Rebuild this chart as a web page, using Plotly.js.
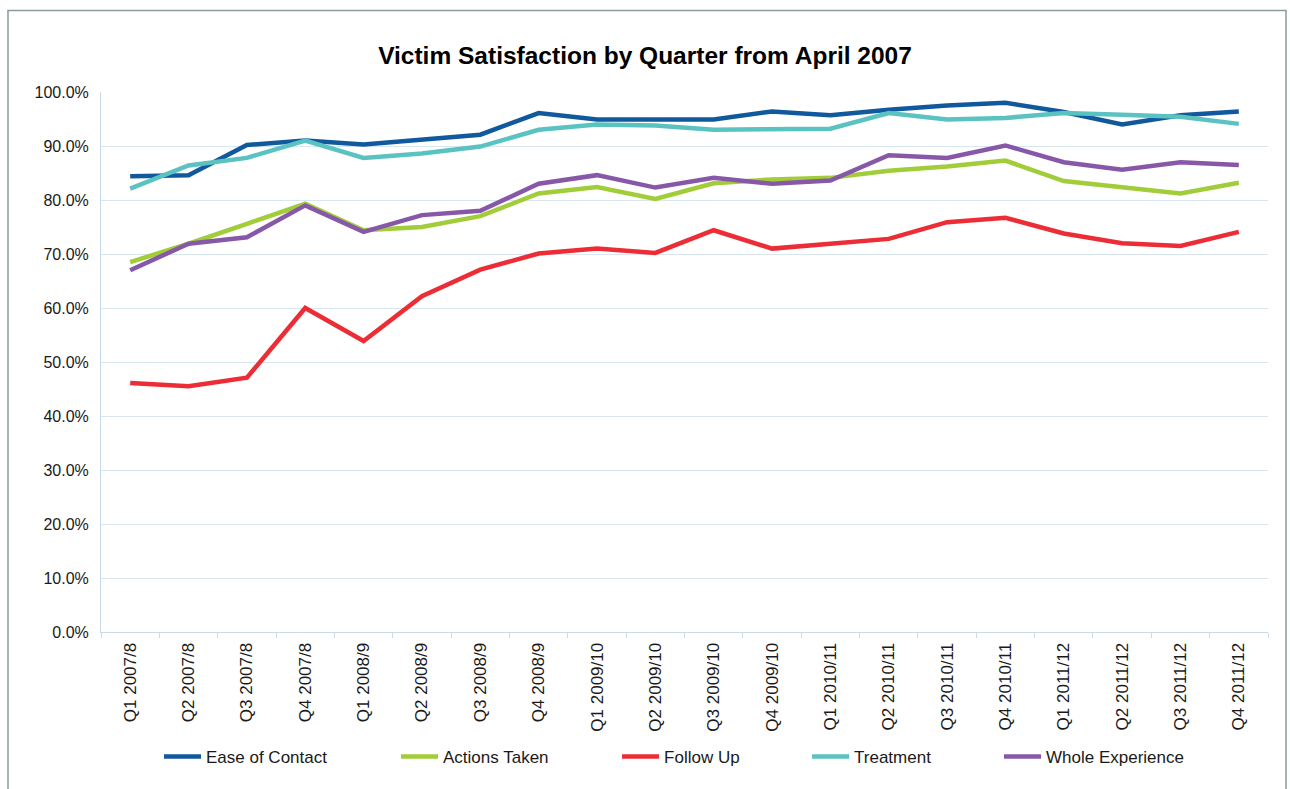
<!DOCTYPE html>
<html>
<head>
<meta charset="utf-8">
<script src="https://cdn.plot.ly/plotly-3.0.1.min.js"></script>
<style>
  html, body { margin: 0; padding: 0; background: #ffffff; }
  #chart { width: 1290px; height: 789px; }
</style>
</head>
<body>
<div id="chart"></div>
<script>
// ---- data ----
const quarters = [
  "Q1 2007/8", "Q2 2007/8", "Q3 2007/8", "Q4 2007/8",
  "Q1 2008/9", "Q2 2008/9", "Q3 2008/9", "Q4 2008/9",
  "Q1 2009/10", "Q2 2009/10", "Q3 2009/10", "Q4 2009/10",
  "Q1 2010/11", "Q2 2010/11", "Q3 2010/11", "Q4 2010/11",
  "Q1 2011/12", "Q2 2011/12", "Q3 2011/12", "Q4 2011/12"
];
const easeOfContact = [84.4, 84.6, 90.2, 91.0, 90.3, 91.2, 92.1, 96.1, 94.9, 94.9,
                       94.9, 96.4, 95.7, 96.7, 97.5, 98.0, 96.3, 94.0, 95.7, 96.4];
const actionsTaken  = [68.5, 71.9, 75.6, 79.3, 74.4, 75.0, 77.0, 81.2, 82.4, 80.2,
                       83.1, 83.8, 84.1, 85.4, 86.2, 87.3, 83.5, 82.4, 81.2, 83.2];
const followUp      = [46.1, 45.5, 47.1, 60.0, 53.9, 62.2, 67.1, 70.1, 71.0, 70.2,
                       74.4, 71.0, 71.9, 72.8, 75.9, 76.7, 73.8, 72.0, 71.5, 74.1];
const treatment     = [82.1, 86.4, 87.8, 91.0, 87.8, 88.6, 89.9, 93.0, 94.0, 93.8,
                       93.0, 93.0, 93.2, 96.1, 94.9, 95.2, 96.1, 95.8, 95.4, 94.1];
const wholeExperience = [67.0, 71.9, 73.1, 79.0, 74.1, 77.2, 78.0, 83.0, 84.6, 82.3,
                         84.1, 83.0, 83.6, 88.3, 87.8, 90.1, 87.0, 85.6, 87.0, 86.5];
const seriesNames = ["Ease of Contact", "Actions Taken", "Follow Up", "Treatment", "Whole Experience"];
const yTickVals = [0, 10, 20, 30, 40, 50, 60, 70, 80, 90, 100];

// ---- styles ----
const colors = ["#10599c", "#a2cd3a", "#ec2d36", "#5bc2c2", "#8858a8"];
const legendIds = ["legend", "legend2", "legend3", "legend4", "legend5"];
const legendX = [0.0497, 0.2528, 0.4422, 0.6050, 0.7695];
const seriesData = [easeOfContact, actionsTaken, followUp, treatment, wholeExperience];

const traces = seriesData.map((vals, i) => ({
  type: "scatter",
  mode: "lines",
  x: quarters,
  y: vals,
  name: seriesNames[i],
  legend: legendIds[i],
  line: { color: colors[i], width: 4.5, shape: "linear" }
}));

const fontFam = "'Liberation Sans', Arial, sans-serif";
const layout = {
  width: 1290,
  height: 789,
  paper_bgcolor: "#ffffff",
  plot_bgcolor: "#ffffff",
  margin: { l: 101, r: 22, t: 92, b: 157 },
  font: { family: fontFam, size: 16, color: "#1a1a1a" },
  title: {
    text: "<b>Victim Satisfaction by Quarter from April 2007</b>",
    x: 0.5, xref: "container", xanchor: "center",
    y: 0.930, yref: "container", yanchor: "middle",
    font: { family: fontFam, size: 24.5, color: "#000000" }
  },
  xaxis: {
    type: "category",
    range: [-0.5, quarters.length - 0.5],
    tickangle: -90,
    tickfont: { family: fontFam, size: 17, color: "#1a1a1a" },
    ticklabelstandoff: 3,
    showgrid: false,
    showline: true,
    linecolor: "#c9dbe8",
    linewidth: 1,
    ticks: "outside",
    tickson: "boundaries",
    ticklen: 5,
    tickcolor: "#c9dbe8",
    zeroline: false,
    fixedrange: true
  },
  yaxis: {
    range: [0, 100],
    tickvals: yTickVals,
    ticktext: yTickVals.map(v => v.toFixed(1) + "%"),
    tickfont: { family: fontFam, size: 16, color: "#1a1a1a" },
    ticklabelstandoff: 8,
    showgrid: true,
    gridcolor: "#d8e6f0",
    gridwidth: 1,
    showline: true,
    linecolor: "#c9dbe8",
    linewidth: 1,
    ticks: "",
    zeroline: false,
    fixedrange: true
  },
  shapes: [{
    type: "rect", xref: "paper", yref: "paper",
    x0: (8 - 101) / 1167, x1: (1286 - 101) / 1167,
    y0: (632 - 800) / 540, y1: (632 - 10.5) / 540,
    line: { color: "#8a9a9a", width: 1.5 },
    fillcolor: "rgba(0,0,0,0)"
  }],
  showlegend: true
};

legendIds.forEach((id, i) => {
  layout[id] = {
    orientation: "h",
    x: legendX[i], xref: "paper", xanchor: "left",
    y: (632 - 757) / 540, yref: "paper", yanchor: "middle",
    font: { family: fontFam, size: 17, color: "#1a1a1a" },
    bgcolor: "rgba(0,0,0,0)",
    borderwidth: 0,
    itemwidth: 37
  };
});

Plotly.newPlot("chart", traces, layout, { displayModeBar: false, staticPlot: true });
</script>
</body>
</html>
